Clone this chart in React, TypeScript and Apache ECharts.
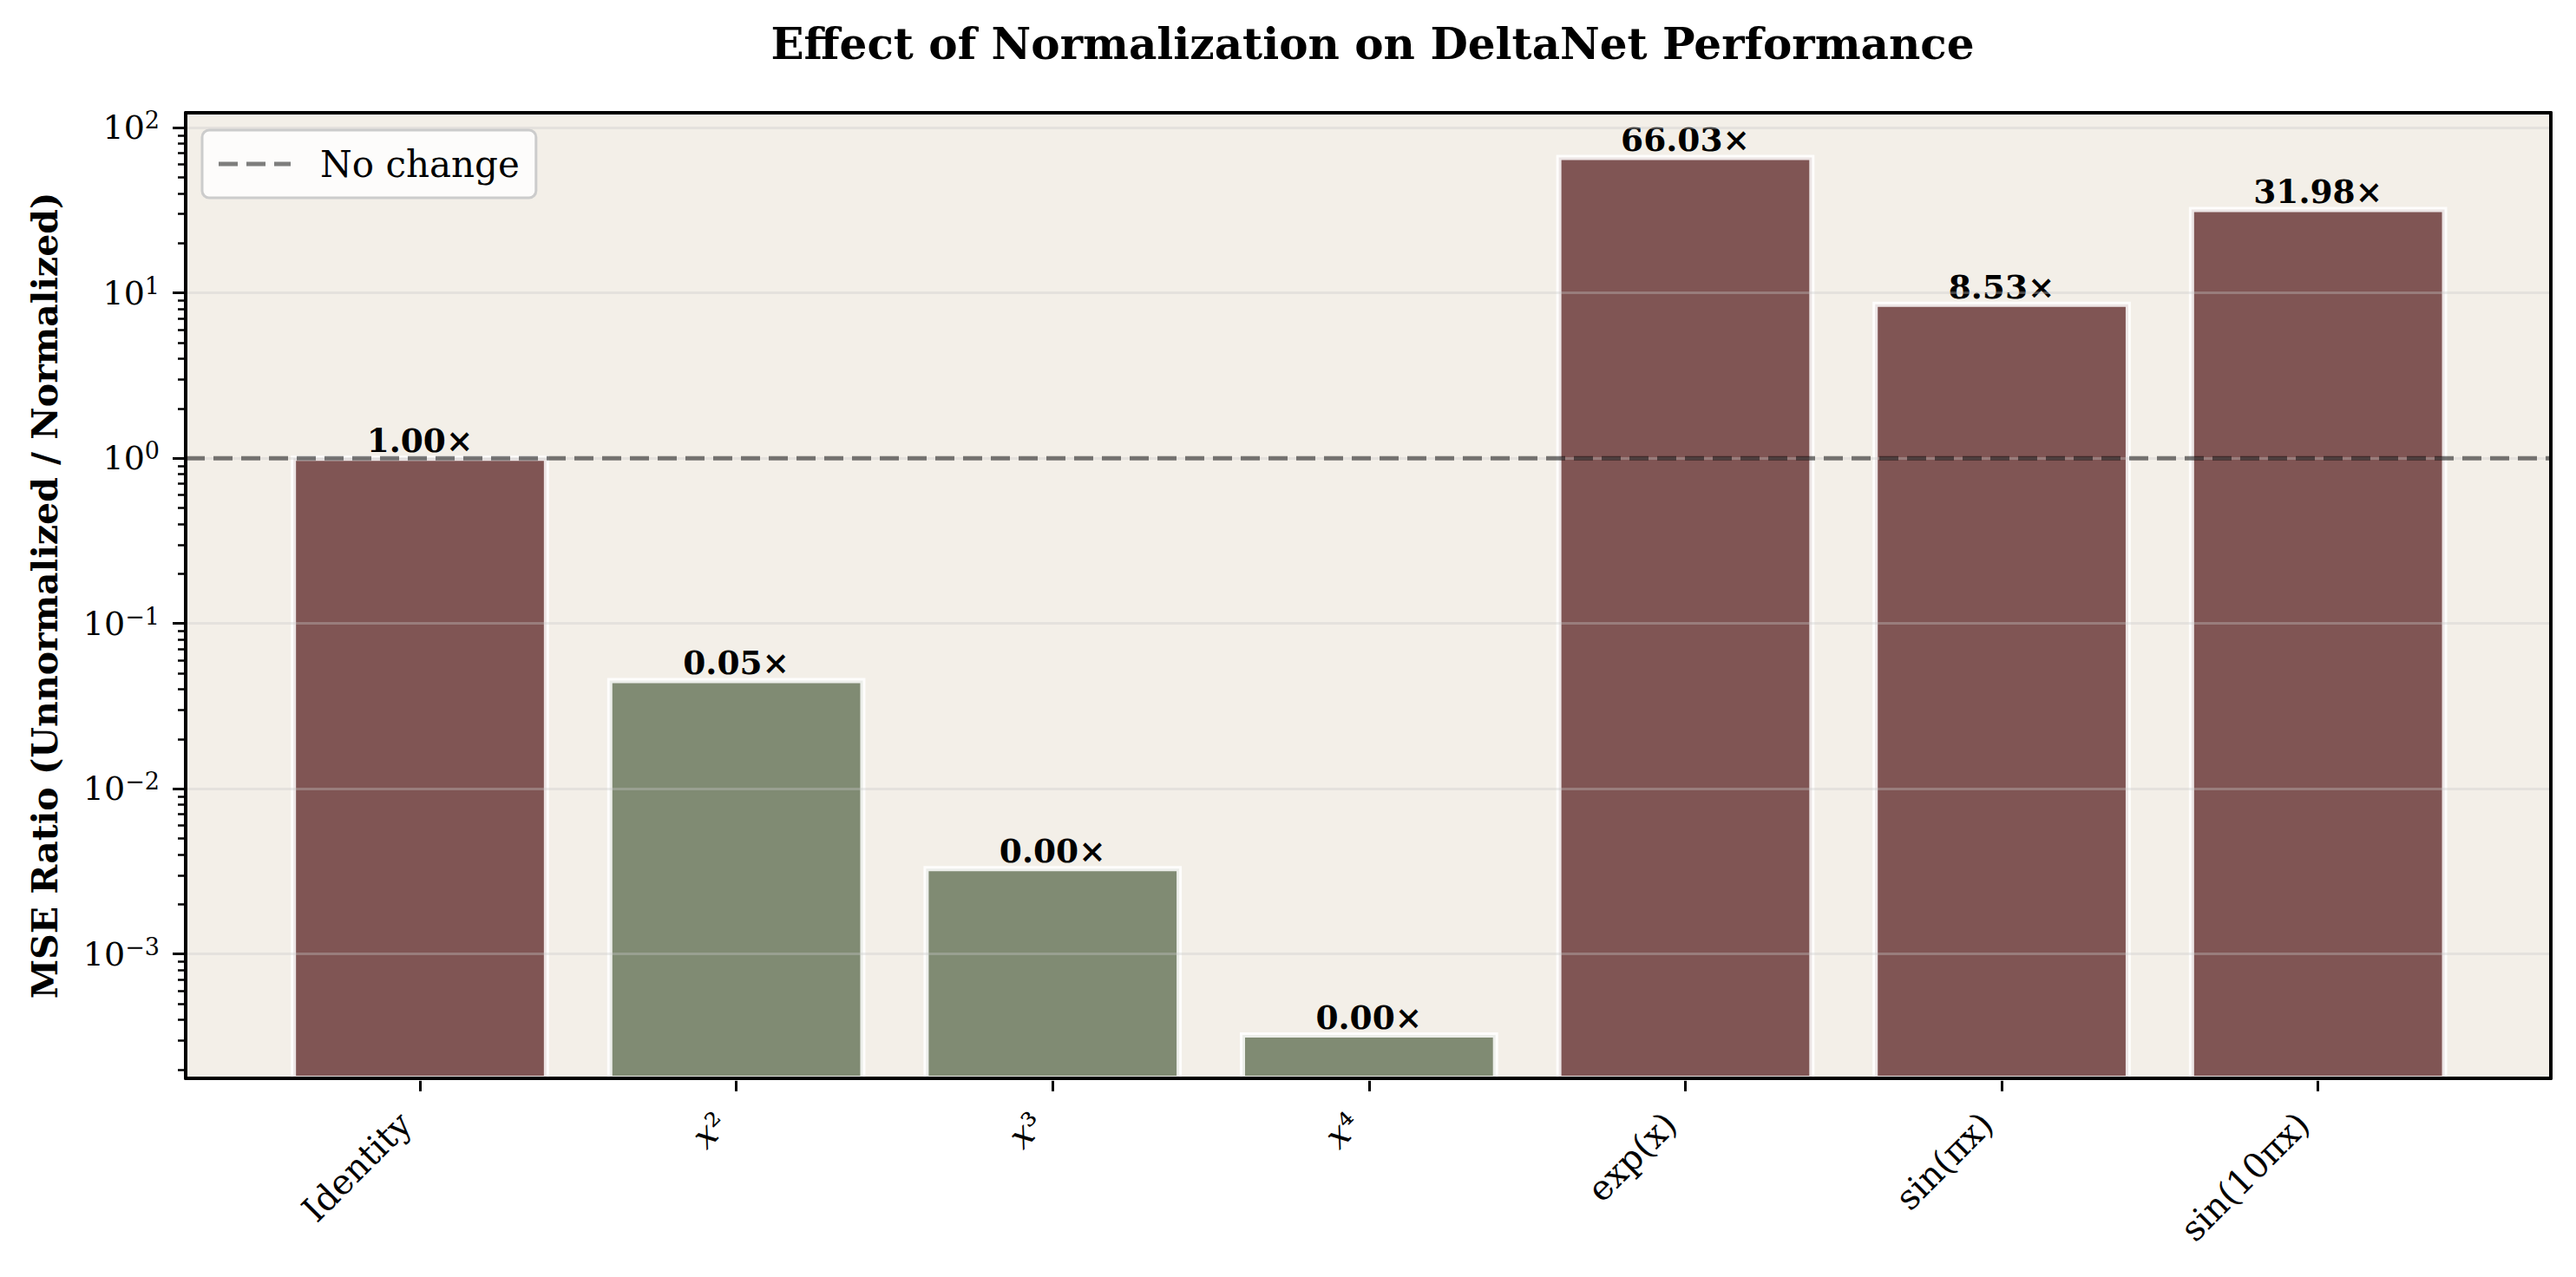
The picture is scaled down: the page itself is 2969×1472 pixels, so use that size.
import { useEffect, useRef } from 'react';
import * as echarts from 'echarts';

const CATEGORIES = ['Identity', 'x²', 'x³', 'x⁴', 'exp(x)', 'sin(πx)', 'sin(10πx)'];
const MSE_RATIOS = [1.0, 0.0452, 0.00329, 0.000324, 66.03, 8.53, 31.98];
const NO_CHANGE = 1;

// axis limits (log axis)
const Y_MIN = 1.77e-4;
const Y_MAX = 123;
const MAJOR_EXPONENTS = [-3, -2, -1, 0, 1, 2];
const MINOR_MULTIPLIERS = [2, 3, 4, 5, 6, 7, 8, 9];

const FONT = "'DejaVu Serif', serif";
const WORSE = '#6b3939';
const BETTER = '#6b795e';
const PLOT_BG = '#f3efe8';
const REF_LINE = 'rgba(0,0,0,0.5)';

// three dashes, same rhythm as the reference line
const DASH_ICON = 'path://M0,0H22V5H0Z M32,0H54V5H32Z M64,0H83V5H64Z';

const powerLabel = (v: number) => {
  const e = Math.round(v);
  return `{b|10}{e|${e < 0 ? '−' + Math.abs(e) : e}}`;
};

const LOG_MIN = Math.log10(Y_MIN);
const LOG_MAX = Math.log10(Y_MAX);

const minorTicks: number[] = [];
for (let e = MAJOR_EXPONENTS[0] - 1; e <= MAJOR_EXPONENTS[MAJOR_EXPONENTS.length - 1]; e++) {
  for (const k of MINOR_MULTIPLIERS) {
    const t = e + Math.log10(k);
    if (t >= LOG_MIN && t <= LOG_MAX) minorTicks.push(t);
  }
}

const frameLine = { show: true, onZero: false, lineStyle: { color: '#000', width: 4 } };

function buildOption() {
  return {
    animation: false,
    backgroundColor: '#ffffff',
    textStyle: { fontFamily: FONT },
    title: {
      text: 'Effect of Normalization on DeltaNet Performance',
      left: 1577,
      top: 20,
      textAlign: 'center',
      textStyle: { fontFamily: FONT, fontSize: 50, fontWeight: 'bold', color: '#000' },
    },
    legend: {
      data: [{ name: 'No change', icon: DASH_ICON }],
      left: 233,
      top: 150,
      padding: [18, 19, 18, 19],
      itemWidth: 83,
      itemHeight: 5,
      backgroundColor: 'rgba(255,255,255,0.8)',
      borderColor: '#cccccc',
      borderWidth: 3,
      borderRadius: 8,
      itemStyle: { color: REF_LINE },
      textStyle: { fontFamily: FONT, fontSize: 42, color: '#000', padding: [0, 0, 0, 29] },
    },
    grid: [
      { left: 214, right: 29, top: 130, bottom: 229, show: true, backgroundColor: PLOT_BG, borderWidth: 0 },
      { left: 301.7, right: 115, top: 130, bottom: 229 },
    ],
    xAxis: [
      {
        gridIndex: 0, type: 'value', min: 0, max: 1, position: 'bottom', z: 4,
        axisLine: frameLine, axisTick: { show: false }, axisLabel: { show: false }, splitLine: { show: false },
      },
      {
        gridIndex: 0, type: 'value', min: 0, max: 1, position: 'top', z: 4,
        axisLine: frameLine, axisTick: { show: false }, axisLabel: { show: false }, splitLine: { show: false },
      },
      {
        gridIndex: 1,
        type: 'category',
        data: CATEGORIES,
        position: 'bottom',
        axisLine: { show: false, onZero: false },
        axisTick: { show: true, alignWithLabel: true, length: 15, lineStyle: { color: '#000', width: 3 } },
        axisLabel: {
          interval: 0,
          rotate: 45,
          margin: 29,
          padding: [0, 24, 0, 0],
          fontFamily: FONT,
          fontSize: 40,
          color: '#000',
          formatter: (v: string) => (/^x[²³⁴]$/.test(v) ? `{it|x}${v.slice(1)}` : v),
          rich: { it: { fontFamily: FONT, fontSize: 40, fontStyle: 'italic', color: '#000' } },
        },
        splitLine: { show: false },
      },
    ],
    yAxis: [
      {
        gridIndex: 0,
        type: 'value',
        min: LOG_MIN,
        max: LOG_MAX,
        position: 'left',
        z: 4,
        name: 'MSE Ratio (Unnormalized / Normalized)',
        nameLocation: 'middle',
        nameGap: 142,
        nameTextStyle: { fontFamily: FONT, fontSize: 41, fontWeight: 'bold', color: '#000' },
        axisLine: frameLine,
        axisTick: { show: true, length: 15, customValues: MAJOR_EXPONENTS, lineStyle: { color: '#000', width: 3 } },
        axisLabel: {
          customValues: MAJOR_EXPONENTS,
          formatter: powerLabel,
          margin: 30,
          color: '#000',
          rich: {
            b: { fontFamily: FONT, fontSize: 38, lineHeight: 44, color: '#000' },
            e: { fontFamily: FONT, fontSize: 27, lineHeight: 44, verticalAlign: 'top', color: '#000' },
          },
        },
        splitLine: { show: true, lineStyle: { color: 'rgba(200,200,200,0.35)', width: 3 } },
      },
      {
        gridIndex: 0, type: 'value', min: LOG_MIN, max: LOG_MAX, position: 'right', z: 4,
        axisLine: frameLine, axisTick: { show: false }, axisLabel: { show: false }, splitLine: { show: false },
      },
      {
        gridIndex: 0,
        type: 'value',
        min: LOG_MIN,
        max: LOG_MAX,
        position: 'left',
        z: 4,
        axisLine: { show: false, onZero: false },
        axisTick: { show: true, length: 9, customValues: minorTicks, lineStyle: { color: '#000', width: 2.5 } },
        axisLabel: { show: false },
        splitLine: { show: false },
      },
      { gridIndex: 0, type: 'log', min: Y_MIN, max: Y_MAX, show: false },
      { gridIndex: 1, type: 'log', min: Y_MIN, max: Y_MAX, show: false },
    ],
    series: [
      {
        type: 'custom',
        name: 'ratio',
        xAxisIndex: 2,
        yAxisIndex: 4,
        z: 2,
        data: MSE_RATIOS.map((v, i) => [i, v]),
        encode: { x: 0, y: 1 },
        renderItem: (params: any, api: any) => {
          const value = api.value(1) as number;
          const top = api.coord([api.value(0), value]);
          const w = api.size([1, 1])[0] * 0.8;
          const cs = params.coordSys;
          const bottom = cs.y + cs.height;
          return {
            type: 'rect',
            shape: { x: top[0] - w / 2, y: top[1], width: w, height: bottom - top[1] },
            style: {
              fill: value >= NO_CHANGE ? WORSE : BETTER,
              fillOpacity: 0.85,
              stroke: '#ffffff',
              strokeOpacity: 0.85,
              lineWidth: 6,
            },
            textContent: {
              style: {
                text: `${value.toFixed(2)}×`,
                fontFamily: FONT,
                fontSize: 37.5,
                fontWeight: 'bold',
                fill: '#000',
              },
            },
            textConfig: { position: 'top', distance: -2 },
          };
        },
      },
      {
        type: 'line',
        name: 'No change',
        xAxisIndex: 0,
        yAxisIndex: 3,
        z: 6,
        data: [[0, NO_CHANGE], [1, NO_CHANGE]],
        symbol: 'none',
        lineStyle: { color: REF_LINE, width: 5, type: [22, 10] },
        itemStyle: { color: REF_LINE },
      },
    ],
  };
}

export default function App() {
  const ref = useRef<HTMLDivElement>(null);

  useEffect(() => {
    if (!ref.current) return;
    const chart = echarts.init(ref.current, undefined, { renderer: 'svg' });
    chart.setOption(buildOption() as any);
    return () => chart.dispose();
  }, []);

  return (
    <div
      ref={ref}
      style={{ position: 'absolute', left: 0, top: 0, width: 2969, height: 1472, background: '#fff' }}
    />
  );
}
